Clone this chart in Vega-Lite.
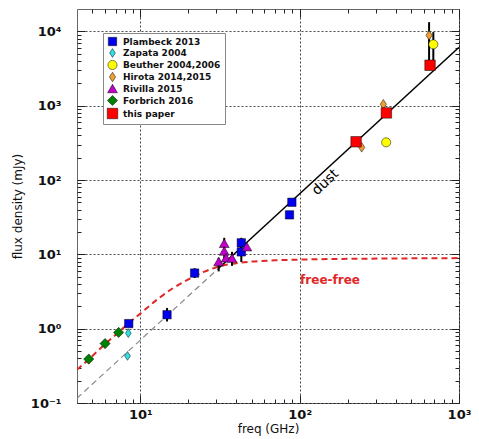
{
  "$schema": "https://vega.github.io/schema/vega-lite/v6.json",
  "width": 382,
  "height": 394,
  "autosize": "none",
  "padding": {"left": 77, "top": 9, "right": 20, "bottom": 36},
  "config": {
    "font": "DejaVu Sans",
    "view": {"stroke": "#666666", "strokeWidth": 1},
    "axis": {
      "domain": false,
      "labelFont": "DejaVu Sans",
      "labelFontSize": 13,
      "labelFontWeight": "bold",
      "labelColor": "#111111",
      "titleFont": "DejaVu Sans",
      "titleFontSize": 12,
      "titleFontWeight": "normal",
      "titleColor": "#111111",
      "labelOverlap": false,
      "labelFlush": false,
      "tickColor": "#222222",
      "tickWidth": 1,
      "tickOpacity": 1,
      "ticks": true,
      "gridColor": "#000000",
      "gridDash": [2, 2],
      "gridWidth": 0.8,
      "gridOpacity": 0.9
    }
  },
  "datasets": {
    "pts": [
      {"series": "Plambeck 2013", "nu": 8.45, "S": 1.17},
      {"series": "Plambeck 2013", "nu": 14.7, "S": 1.54},
      {"series": "Plambeck 2013", "nu": 21.9, "S": 5.6},
      {"series": "Plambeck 2013", "nu": 43, "S": 14.3},
      {"series": "Plambeck 2013", "nu": 43, "S": 10.8},
      {"series": "Plambeck 2013", "nu": 89.3, "S": 50.2},
      {"series": "Plambeck 2013", "nu": 86.3, "S": 34.0},
      {"series": "Zapata 2004", "nu": 8.4, "S": 0.87},
      {"series": "Zapata 2004", "nu": 8.3, "S": 0.43},
      {"series": "Beuther 2004,2006", "nu": 349, "S": 321},
      {"series": "Beuther 2004,2006", "nu": 690, "S": 6690},
      {"series": "Hirota 2014,2015", "nu": 245, "S": 275},
      {"series": "Hirota 2014,2015", "nu": 335, "S": 1047},
      {"series": "Hirota 2014,2015", "nu": 649, "S": 8840},
      {"series": "Rivilla 2015", "nu": 31.0, "S": 8.0},
      {"series": "Rivilla 2015", "nu": 33.6, "S": 14.1},
      {"series": "Rivilla 2015", "nu": 33.6, "S": 11.1},
      {"series": "Rivilla 2015", "nu": 34.5, "S": 9.0},
      {"series": "Rivilla 2015", "nu": 37.6, "S": 8.9},
      {"series": "Rivilla 2015", "nu": 46.6, "S": 12.7},
      {"series": "Forbrich 2016", "nu": 4.74, "S": 0.39},
      {"series": "Forbrich 2016", "nu": 6.0, "S": 0.63},
      {"series": "Forbrich 2016", "nu": 7.3, "S": 0.89},
      {"series": "this paper", "nu": 226, "S": 327},
      {"series": "this paper", "nu": 350, "S": 800},
      {"series": "this paper", "nu": 658, "S": 3500}
    ],
    "err": [
      {"nu": 14.7, "lo": 1.25, "hi": 1.9},
      {"nu": 21.9, "lo": 4.8, "hi": 6.5},
      {"nu": 31.0, "lo": 5.9, "hi": 9.0},
      {"nu": 33.6, "lo": 7.9, "hi": 16.7},
      {"nu": 37.6, "lo": 7.0, "hi": 10.8},
      {"nu": 43, "lo": 7.9, "hi": 16.7},
      {"nu": 649, "lo": 3310, "hi": 13300},
      {"nu": 690, "lo": 3200, "hi": 9780}
    ],
    "dustext": [
      {"nu": 4, "S": 0.116},
      {"nu": 31, "S": 6.5}
    ],
    "dust": [
      {"nu": 31, "S": 6.5},
      {"nu": 1000, "S": 6100}
    ],
    "ff": [
      {"nu": 4, "S": 0.28},
      {"nu": 5, "S": 0.43},
      {"nu": 6, "S": 0.62},
      {"nu": 7, "S": 0.83},
      {"nu": 8, "S": 1.07},
      {"nu": 10, "S": 1.6},
      {"nu": 13, "S": 2.55},
      {"nu": 16, "S": 3.5},
      {"nu": 20, "S": 4.6},
      {"nu": 25, "S": 5.8},
      {"nu": 30, "S": 6.7},
      {"nu": 40, "S": 7.6},
      {"nu": 50, "S": 8.0},
      {"nu": 70, "S": 8.3},
      {"nu": 100, "S": 8.5},
      {"nu": 200, "S": 8.7},
      {"nu": 400, "S": 8.8},
      {"nu": 1000, "S": 8.9}
    ],
    "lbl": [
      {"nu": 145, "S": 93, "t": "dust"}
    ],
    "lbl2": [
      {"nu": 155, "S": 4.5, "t": "free-free"}
    ]
  },
  "layer": [
    {
      "data": {"name": "dustext"},
      "mark": {"type": "line", "color": "#888888", "strokeWidth": 1.2, "strokeDash": [6, 4], "clip": true},
      "encoding": {
        "x": {
          "field": "nu", "type": "quantitative",
          "scale": {"type": "log", "domain": [4, 1000], "nice": false},
          "axis": {
            "orient": "bottom",
            "title": "freq (GHz)",
            "titlePadding": 2,
            "values": [10, 100, 1000],
            "labelExpr": "'10' + ['⁰','¹','²','³'][round(log(datum.value)/LN10)]",
            "grid": true,
            "ticks": false,
            "labelPadding": 5
          }
        },
        "y": {
          "field": "S", "type": "quantitative",
          "scale": {"type": "log", "domain": [0.1, 20000], "nice": false},
          "axis": {
            "orient": "left",
            "title": "flux density (mJy)",
            "titlePadding": 6,
            "values": [0.1, 1, 10, 100, 1000, 10000],
            "labelExpr": "'10' + ['⁻¹','⁰','¹','²','³','⁴'][round(log(datum.value)/LN10)+1]",
            "grid": true,
            "ticks": false,
            "labelPadding": 16
          }
        }
      }
    },
    {
      "data": {"name": "dust"},
      "mark": {"type": "line", "color": "#000000", "strokeWidth": 1.5, "clip": true},
      "encoding": {
        "x": {
          "field": "nu", "type": "quantitative",
          "axis": {"orient": "bottom", "title": null, "labels": false, "grid": false, "ticks": true, "tickSize": -8, "values": [10, 100, 1000]}
        },
        "y": {
          "field": "S", "type": "quantitative",
          "axis": {"orient": "left", "title": null, "labels": false, "grid": false, "ticks": true, "tickSize": -8, "values": [0.1, 1, 10, 100, 1000, 10000]}
        }
      }
    },
    {
      "data": {"name": "ff"},
      "mark": {"type": "line", "color": "#e02828", "strokeWidth": 2, "strokeDash": [6, 4], "interpolate": "monotone", "clip": true},
      "encoding": {
        "x": {
          "field": "nu", "type": "quantitative",
          "axis": {"orient": "bottom", "title": null, "labels": false, "grid": false, "ticks": true, "tickSize": -4,
            "values": [5, 6, 7, 8, 9, 20, 30, 40, 50, 60, 70, 80, 90, 200, 300, 400, 500, 600, 700, 800, 900]}
        },
        "y": {
          "field": "S", "type": "quantitative",
          "axis": {"orient": "left", "title": null, "labels": false, "grid": false, "ticks": true, "tickSize": -4,
            "values": [0.2, 0.3, 0.4, 0.5, 0.6, 0.7, 0.8, 0.9, 2, 3, 4, 5, 6, 7, 8, 9, 20, 30, 40, 50, 60, 70, 80, 90, 200, 300, 400, 500, 600, 700, 800, 900, 2000, 3000, 4000, 5000, 6000, 7000, 8000, 9000]}
        }
      }
    },
    {
      "data": {"name": "err"},
      "mark": {"type": "rule", "color": "#000000", "strokeWidth": 2},
      "encoding": {
        "x": {
          "field": "nu", "type": "quantitative",
          "axis": {"orient": "top", "title": null, "labels": false, "grid": false, "ticks": true, "tickSize": -8, "values": [10, 100, 1000]}
        },
        "y": {
          "field": "lo", "type": "quantitative",
          "axis": {"orient": "right", "title": null, "labels": false, "grid": false, "ticks": true, "tickSize": -8, "values": [0.1, 1, 10, 100, 1000, 10000]}
        },
        "y2": {"field": "hi"}
      }
    },
    {
      "data": {"name": "pts"},
      "mark": {"type": "point", "filled": true, "opacity": 1, "stroke": "#000000", "strokeWidth": 0.5},
      "encoding": {
        "x": {
          "field": "nu", "type": "quantitative",
          "axis": {"orient": "top", "title": null, "labels": false, "grid": false, "ticks": true, "tickSize": -4,
            "values": [5, 6, 7, 8, 9, 20, 30, 40, 50, 60, 70, 80, 90, 200, 300, 400, 500, 600, 700, 800, 900]}
        },
        "y": {
          "field": "S", "type": "quantitative",
          "axis": {"orient": "right", "title": null, "labels": false, "grid": false, "ticks": true, "tickSize": -4,
            "values": [0.2, 0.3, 0.4, 0.5, 0.6, 0.7, 0.8, 0.9, 2, 3, 4, 5, 6, 7, 8, 9, 20, 30, 40, 50, 60, 70, 80, 90, 200, 300, 400, 500, 600, 700, 800, 900, 2000, 3000, 4000, 5000, 6000, 7000, 8000, 9000]}
        },
        "color": {
          "field": "series", "type": "nominal",
          "scale": {
            "domain": ["Plambeck 2013", "Zapata 2004", "Beuther 2004,2006", "Hirota 2014,2015", "Rivilla 2015", "Forbrich 2016", "this paper"],
            "range": ["#0000ee", "#30e0e8", "#ffff00", "#f0a030", "#c000c8", "#008000", "#ff0000"]
          },
          "legend": {
            "title": null,
            "orient": "none",
            "legendX": 26,
            "legendY": 24,
            "fillColor": "#ffffff",
            "strokeColor": "#888888",
            "padding": 4,
            "rowPadding": 0,
            "labelFont": "DejaVu Sans",
            "labelFontSize": 9,
            "labelFontWeight": "bold",
            "labelColor": "#111111",
            "labelOffset": 5,
            "symbolSize": 55,
            "symbolStrokeWidth": 0.5,
            "symbolStrokeColor": "#000000"
          }
        },
        "shape": {
          "field": "series", "type": "nominal",
          "scale": {
            "domain": ["Plambeck 2013", "Zapata 2004", "Beuther 2004,2006", "Hirota 2014,2015", "Rivilla 2015", "Forbrich 2016", "this paper"],
            "range": ["square", "M0,-1L0.65,0L0,1L-0.65,0Z", "circle", "M0,-1L0.65,0L0,1L-0.65,0Z", "triangle-up", "diamond", "square"]
          }
        },
        "size": {
          "field": "series", "type": "nominal",
          "scale": {
            "domain": ["Plambeck 2013", "Zapata 2004", "Beuther 2004,2006", "Hirota 2014,2015", "Rivilla 2015", "Forbrich 2016", "this paper"],
            "range": [70, 110, 90, 110, 60, 80, 150]
          },
          "legend": null
        }
      }
    },
    {
      "data": {"name": "lbl"},
      "mark": {"type": "text", "angle": 317, "fontSize": 14, "font": "DejaVu Sans", "color": "#000000", "align": "center", "baseline": "middle"},
      "encoding": {
        "x": {"field": "nu", "type": "quantitative", "axis": null},
        "y": {"field": "S", "type": "quantitative", "axis": null},
        "text": {"field": "t"}
      }
    },
    {
      "data": {"name": "lbl2"},
      "mark": {"type": "text", "fontSize": 12, "fontWeight": "bold", "font": "DejaVu Sans", "color": "#e02828", "align": "center", "baseline": "middle"},
      "encoding": {
        "x": {"field": "nu", "type": "quantitative", "axis": null},
        "y": {"field": "S", "type": "quantitative", "axis": null},
        "text": {"field": "t"}
      }
    }
  ],
  "resolve": {"axis": {"x": "independent", "y": "independent"}}
}
